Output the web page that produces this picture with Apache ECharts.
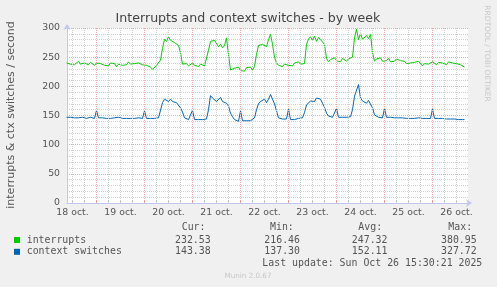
<!DOCTYPE html>
<html><head><meta charset="utf-8">
<script src="https://cdn.jsdelivr.net/npm/echarts@6/dist/echarts.min.js"></script>
<style>html,body{margin:0;padding:0;background:#f0f0f0}#c{width:497px;height:287px}</style>
</head><body><div id="c"></div>
<script>
// hours counted from 18 oct. 00:00, one sample per hour
const startHour = 9;
const interrupts = [
240,242,238,241,237,239,243,238,236,240,239,237,241,238,236,
240,237,239,242,236,238,235,240,237,239,234,238,241,236,239,237,242,238,235,239,236,240,238,237,
239,236,238,233,229,231,236,238,245,265,281,277,285,279,280,275,276,270,258,238,
236,239,235,238,240,236,237,234,238,236,235,237,
262,277,280,279,278,268,272,266,270,283,254,228,
225,231,228,233,227,230,226,232,229,233,228,234,
255,270,268,272,270,268,280,289,272,250,240,
236,239,234,238,241,236,239,235,240,237,242,238,236,239,
272,281,285,279,286,277,284,280,283,272,248,242,
246,243,249,244,247,242,248,245,243,247,244,
250,283,298,280,290,281,284,287,282,289,258,243,
247,244,249,243,246,244,248,242,245,243,247,249,244,
241,243,239,242,240,238,241,239,243,240,235,239,241,238,240,242,239,237,241,238,240,239,237,242,245,240,238,239,236,237,235,233
];
const contextSwitches = [
147,146,147,145,146,147,146,145,147,146,145,146,147,146,145,
159,
146,145,146,147,145,146,145,146,146,145,147,146,145,146,145,146,145,146,145,144,146,145,145,
158,
145,144,145,144,145,144,146,
148,172,178,179,174,178,174,173,172,169,163,156,146,
144,143,143,
159,
143,142,143,144,143,142,144,
160,184,180,183,174,177,181,174,174,171,166,154,148,143,
141,140,
158,
141,140,141,140,141,142,
146,160,170,174,172,178,172,178,186,189,170,158,146,
143,144,143,144,
161,
143,144,143,144,145,144,146,
155,168,171,175,173,174,180,182,178,171,164,154,149,
148,147,147,
162,
147,146,147,148,147,146,148,
160,183,186,203,180,175,178,171,176,174,163,151,148,
147,147,146,
162,
147,146,147,146,146,147,146,145,146,146,145,146,145,146,145,145,146,145,145,146,145,144,145,
161,
145,144,145,144,145,144,144,145,144,143,144,144,143,144,143,143
];
const dayLabels = ['18 oct.','19 oct.','20 oct.','21 oct.','22 oct.','23 oct.','24 oct.','25 oct.','26 oct.'];
const seriesNames = ['interrupts','context switches'];
const seriesColors = ['#00CC00','#0066B3'];
const statCur = ['232.53','143.38'];
const statMin = ['216.46','137.30'];
const statAvg = ['247.32','152.11'];
const statMax = ['380.95','327.72'];
const titleText = 'Interrupts and context switches - by week';
const yTitle = 'interrupts & ctx switches / second';
const lastUpdate = 'Last update: Sun Oct 26 15:30:21 2025';
const watermark = 'RRDTOOL / TOBI OETIKER';
const footer = 'Munin 2.0.67';

const xMin = 9.25, xMax = 209.75;
const midnights = [], sixHours = [], noons = [];
for (let h = 0; h <= 216; h += 6) {
  if (h < xMin || h > xMax) continue;
  if (h % 24 === 0) midnights.push(h); else sixHours.push(h);
  if (h % 24 === 12) noons.push(h);
}
const toPairs = arr => arr.map((v, i) => [startHour + i, v]);

const FONT = '"DejaVu Sans"';
const MONO = '"DejaVu Sans Mono"';
const txtCol = '#555';
const g = [];
const t = (x, y, text, font, fill, align, extra) => g.push(Object.assign({
  type: 'text', x, y, silent: true,
  style: { text, font, fill, textAlign: align || 'left', textVerticalAlign: 'middle' }
}, extra || {}));

t(248, 19, titleText, '12.6px ' + FONT, '#444', 'center');
t(11, 115, yTitle, '11px ' + FONT, txtCol, 'center', { rotation: Math.PI / 2 });
t(487, 53.5, watermark, '7.5px ' + FONT, '#c8c8c8', 'center', { rotation: -Math.PI / 2 });
t(248, 276, footer, '7.2px ' + FONT, '#c8c8c8', 'center');
const mono = '9.9px ' + MONO;
t(181.7, 227.5, 'Cur:', mono, txtCol);
t(270, 227.5, 'Min:', mono, txtCol);
t(358.3, 227.5, 'Avg:', mono, txtCol);
t(448.3, 227.5, 'Max:', mono, txtCol);
seriesNames.forEach((name, i) => {
  const y = 240 + i * 11.8;
  g.push({ type: 'rect', silent: true, shape: { x: 14, y: y - 3, width: 6, height: 6 }, style: { fill: seriesColors[i] } });
  t(26.7, y, name, mono, txtCol);
  t(210.7, y, statCur[i], mono, txtCol, 'right');
  t(300, y, statMin[i], mono, txtCol, 'right');
  t(387.5, y, statAvg[i], mono, txtCol, 'right');
  t(476.7, y, statMax[i], mono, txtCol, 'right');
});
t(482.3, 263.5, lastUpdate, mono, txtCol, 'right');

const axisCol = '#c4c8f0';
const minorCol = '#d2d2d2';
const majorCol = '#eeaaaa';
const vLine = (vals, color) => ({
  type: 'line', data: [], silent: true, z: 1, animation: false,
  markLine: {
    silent: true, symbol: ['none', 'none'], label: { show: false }, animation: false,
    lineStyle: { color, type: [1, 1], width: 1 },
    emphasis: { disabled: true },
    data: vals.map(v => ({ xAxis: v }))
  }
});
const chart = echarts.init(document.getElementById('c'), null, { renderer: 'canvas' });
chart.setOption({
  animation: false,
  backgroundColor: '#f0f0f0',
  grid: { left: 67, top: 28, right: 29, bottom: 84, show: true, backgroundColor: '#ffffff', borderWidth: 0 },
  xAxis: [{
    type: 'value', min: xMin, max: xMax,
    axisLine: { show: true, lineStyle: { color: axisCol, width: 1 }, symbol: ['none', 'arrow'], symbolSize: [6, 6], symbolOffset: [0, 4] },
    axisTick: { show: true, inside: true, length: 2, customValues: sixHours, lineStyle: { color: '#bbb' } },
    axisLabel: { show: true, customValues: noons, margin: 5, color: txtCol, fontFamily: 'DejaVu Sans', fontSize: 9.33,
      formatter: v => dayLabels[Math.round((v - 12) / 24)] || '' },
    splitLine: { show: false }
  }, {
    type: 'value', min: xMin, max: xMax, position: 'bottom',
    axisLine: { show: false },
    axisTick: { show: true, inside: true, length: 3, customValues: midnights, lineStyle: { color: '#e88' } },
    axisLabel: { show: false },
    splitLine: { show: false }
  }],
  yAxis: {
    type: 'value', min: 0, max: 300, interval: 50,
    axisLine: { show: true, lineStyle: { color: axisCol, width: 1 }, symbol: ['none', 'arrow'], symbolSize: [6, 6], symbolOffset: [0, 4] },
    axisTick: { show: false },
    axisLabel: { margin: 7, color: txtCol, fontFamily: 'DejaVu Sans', fontSize: 9.33 },
    splitLine: { show: true, lineStyle: { color: majorCol, type: [1, 1], width: 1 } },
    minorTick: { show: false, splitNumber: 5 },
    minorSplitLine: { show: true, lineStyle: { color: minorCol, type: [1, 1], width: 1 } }
  },
  series: [
    vLine(sixHours, minorCol),
    vLine(midnights, majorCol),
    { name: seriesNames[0], type: 'line', data: toPairs(interrupts), showSymbol: false, symbol: 'none',
      lineStyle: { color: seriesColors[0], width: 1 }, itemStyle: { color: seriesColors[0] }, z: 3 },
    { name: seriesNames[1], type: 'line', data: toPairs(contextSwitches), showSymbol: false, symbol: 'none',
      lineStyle: { color: seriesColors[1], width: 1 }, itemStyle: { color: seriesColors[1] }, z: 4 }
  ],
  graphic: g
});
</script></body></html>
